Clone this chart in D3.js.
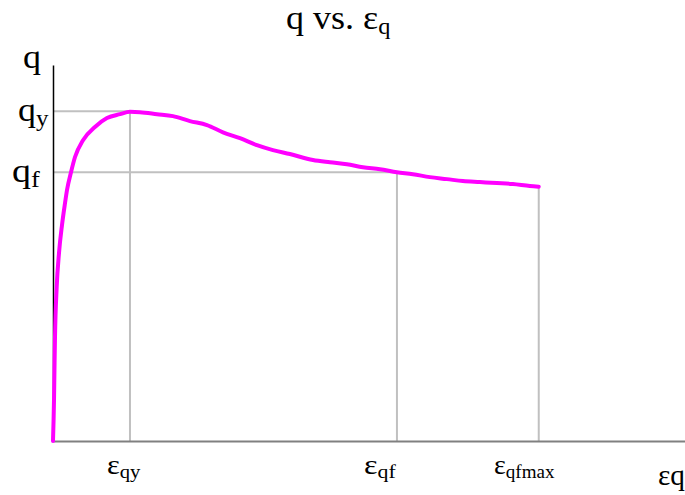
<!DOCTYPE html>
<html>
<head>
<meta charset="utf-8">
<script src="https://cdn.jsdelivr.net/npm/d3@7"></script>
<style>
  html, body { margin: 0; padding: 0; background: #fff; }
  svg { display: block; }
  text { font-family: "Liberation Serif", "Times New Roman", Times, serif; fill: #000; }
</style>
</head>
<body>
<svg id="chart" width="685" height="495"></svg>
<script>
// ---- data (arbitrary normalised units: ε_qy = 1, q_y = 1) ----
const strain = [0, 0.013, 0.019, 0.026, 0.048, 0.078, 0.117, 0.156, 0.182, 0.234, 0.286, 0.390, 0.545, 0.701, 0.870, 1.0, 1.130, 1.351, 1.558, 1.779, 2.0, 2.208, 2.429, 2.649, 2.857, 3.078, 3.377, 3.597, 3.818, 4.026, 4.247, 4.468, 4.675, 4.896, 5.117, 5.325, 5.545, 5.766, 5.974, 6.195, 6.31];
const stress = [0, 0.124, 0.215, 0.315, 0.467, 0.570, 0.655, 0.721, 0.761, 0.815, 0.861, 0.912, 0.952, 0.979, 0.991, 0.998, 0.997, 0.991, 0.985, 0.970, 0.958, 0.936, 0.918, 0.897, 0.882, 0.870, 0.852, 0.845, 0.839, 0.830, 0.824, 0.815, 0.809, 0.800, 0.794, 0.788, 0.785, 0.782, 0.779, 0.773, 0.771];

const qMarks = [ {name: "y", value: 1.0}, {name: "f", value: 0.815} ];
const epsMarks = [ {sub: "qy", value: 1.0, q: 1.0}, {sub: "qf", value: 4.468, q: 0.815}, {sub: "qfmax", value: 6.31, q: 0.771} ];
const xMax = 8.21, yMax = 1.14;

// ---- layout ----
const svg = d3.select("#chart");
const x = d3.scaleLinear().domain([0, xMax]).range([53, 685]);
const y = d3.scaleLinear().domain([0, yMax]).range([441, 65]);

// reference lines
const refs = svg.append("g").attr("stroke", "#c0c0c0").attr("stroke-width", 2).attr("fill", "none");
refs.append("line")
  .attr("x1", x(0)).attr("x2", x(epsMarks[0].value))
  .attr("y1", y(qMarks[0].value)).attr("y2", y(qMarks[0].value));
refs.append("line")
  .attr("x1", x(0)).attr("x2", x(epsMarks[1].value))
  .attr("y1", y(qMarks[1].value)).attr("y2", y(qMarks[1].value));
refs.selectAll("line.v").data(epsMarks).join("line").attr("class", "v")
  .attr("x1", d => x(d.value)).attr("x2", d => x(d.value))
  .attr("y1", d => y(d.q)).attr("y2", y(0));

// axes (no ticks)
const yAxis = svg.append("g").attr("transform", `translate(${x(0)},0)`)
  .call(d3.axisLeft(y).tickValues([]).tickSizeOuter(0));
yAxis.select(".domain").attr("stroke", "#000").attr("stroke-width", 1.5);

const xAxis = svg.append("g").attr("transform", `translate(0,${y(0)})`)
  .call(d3.axisBottom(x).tickValues([]).tickSizeOuter(0));
xAxis.select(".domain").attr("stroke", "#808080").attr("stroke-width", 2);

// curve
const pts = strain.map((s, i) => [s, stress[i]]);
svg.append("path")
  .datum(pts)
  .attr("fill", "none")
  .attr("stroke", "#ff00ff")
  .attr("stroke-width", 4)
  .attr("stroke-linejoin", "round")
  .attr("stroke-linecap", "round")
  .attr("d", d3.line().x(d => x(d[0])).y(d => y(d[1])).curve(d3.curveMonotoneX));

// helper: text with optional subscript, lightly fitted to the reference's width
function label(px, py, width, size, main, sub, subSize, subDy) {
  const t = svg.append("text").attr("font-size", size);
  t.append("tspan").text(main);
  if (sub) t.append("tspan").attr("font-size", subSize).attr("dy", subDy).text(sub);
  const w = t.node().getBBox().width || width;
  const s = Math.max(0.85, Math.min(1.15, width / w));
  t.attr("transform", `translate(${px},${py}) scale(${s},1)`);
  return t;
}

// title
label(286, 29, 105, 34, "q vs. ε", "q", 23, 5);

// y axis label
label(23, 68, 18, 33, "q");

// q marks
label(18, 121, 31, 33, "q", "y", 23, 5);
label(12, 182, 30, 33, "q", "f", 23, 5);

// eps marks
const epsStart = [107, 364, 494], epsWidth = [34, 34, 61];
epsMarks.forEach((d, i) => label(epsStart[i], 474, epsWidth[i], 28, "ε", d.sub, 19, 4));

// x axis label
label(658, 485, 27, 29, "εq");
</script>
</body>
</html>
